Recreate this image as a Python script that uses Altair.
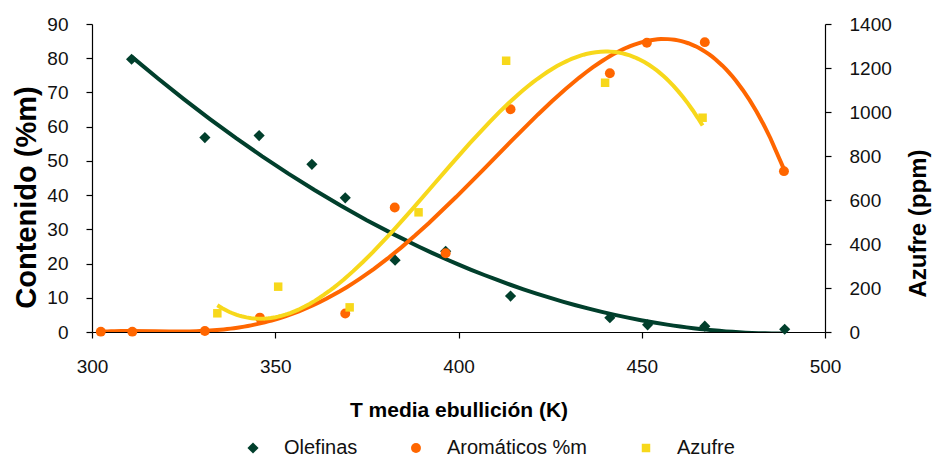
import altair as alt
import pandas as pd

# Mean boiling temperature (K) and measured content per fraction
t_olefinas = [310.8, 330.8, 345.6, 360.0, 369.1, 382.7, 396.5, 414.2, 441.3, 451.6, 467.2, 489.0]
olefinas = [79.7, 56.8, 57.4, 49.0, 39.2, 21.0, 23.6, 10.5, 4.2, 2.1, 1.7, 0.8]

t_aromaticos = [302.4, 311.0, 330.8, 345.8, 369.1, 382.6, 396.5, 414.2, 441.3, 451.4, 467.2, 488.8]
aromaticos = [0.1, 0.1, 0.3, 4.2, 5.4, 36.4, 23.0, 65.1, 75.6, 84.5, 84.7, 47.0]

# Sulfur (ppm), plotted against the secondary axis
t_azufre = [334.2, 350.8, 370.3, 389.1, 413.0, 440.0, 466.6]
azufre = [85, 206, 112, 544, 1233, 1133, 974]

series = ["Olefinas", "Aromáticos %m", "Azufre"]
colors = ["#013F2C", "#FF6600", "#F7D81B"]
shapes = ["diamond", "circle", "square"]
marker_sizes = [125, 72, 88]

x_ticks = [300, 350, 400, 450, 500]
left_ticks = [0, 10, 20, 30, 40, 50, 60, 70, 80, 90]
right_ticks = [0, 200, 400, 600, 800, 1000, 1200, 1400]

left_df = pd.DataFrame({
    "T": t_olefinas + t_aromaticos,
    "valor": olefinas + aromaticos,
    "serie": ["Olefinas"] * len(olefinas) + ["Aromáticos %m"] * len(aromaticos),
})
right_df = pd.DataFrame({
    "T": t_azufre,
    "ppm": azufre,
    "serie": ["Azufre"] * len(azufre),
})

FONT = "Liberation Sans"
W, H = 733, 308

x_enc = alt.X(
    "T:Q",
    scale=alt.Scale(domain=[300, 500], nice=False, zero=False),
    axis=alt.Axis(
        values=x_ticks, title="T media ebullición (K)", grid=False,
        tickSize=6, labelPadding=19, labelFlush=False,
        titleX=W / 2, titleY=78, titleBaseline="middle", titleFontSize=21,
    ),
)

color_enc = alt.Color(
    "serie:N",
    scale=alt.Scale(domain=series, range=colors),
    legend=alt.Legend(
        title=None, orient="none", direction="horizontal",
        legendX=151, legendY=414, symbolSize=100, labelOffset=21,
        columnPadding=48, labelFontSize=20, labelFont=FONT,
        labelColor="#111111", symbolStrokeWidth=0,
    ),
)
shape_enc = alt.Shape("serie:N", scale=alt.Scale(domain=series, range=shapes))
size_enc = alt.Size("serie:N", scale=alt.Scale(domain=series, range=marker_sizes), legend=None)

y_left = alt.Y(
    "valor:Q",
    scale=alt.Scale(domain=[0, 90], nice=False),
    axis=alt.Axis(
        orient="left", values=left_ticks, title="Contenido (%m)", grid=False,
        tickSize=6, labelPadding=18, titleX=-66, titleY=173,
        titleAngle=270, titleBaseline="middle", titleFontSize=29,
    ),
)
y_right = alt.Y(
    "ppm:Q",
    scale=alt.Scale(domain=[0, 1400], nice=False),
    axis=alt.Axis(
        orient="right", values=right_ticks, format="d", title="Azufre (ppm)", grid=False,
        tickSize=6, labelPadding=18, titleX=93, titleY=199,
        titleAngle=270, titleBaseline="middle", titleFontSize=24,
    ),
)

base_left = alt.Chart(left_df)
base_right = alt.Chart(right_df)

olef_fit = base_left.transform_filter(alt.datum.serie == "Olefinas").transform_regression(
    "T", "valor", method="poly", order=2
).mark_line(color=colors[0], strokeWidth=4, clip=True).encode(x=x_enc, y=y_left)

arom_fit = base_left.transform_filter(alt.datum.serie == "Aromáticos %m").transform_regression(
    "T", "valor", method="poly", order=4
).mark_line(color=colors[1], strokeWidth=4, clip=True).encode(x=x_enc, y=y_left)

left_points = base_left.mark_point(filled=True, opacity=1, strokeWidth=0).encode(
    x=x_enc, y=y_left, color=color_enc, shape=shape_enc, size=size_enc
)

azuf_fit = base_right.transform_regression(
    "T", "ppm", method="poly", order=3
).mark_line(color=colors[2], strokeWidth=4, clip=True).encode(x=x_enc, y=y_right)

right_points = base_right.mark_point(filled=True, opacity=1, strokeWidth=0).encode(
    x=x_enc, y=y_right, color=color_enc, shape=shape_enc, size=size_enc
)

left_layer = alt.layer(olef_fit, arom_fit, left_points)
right_layer = alt.layer(azuf_fit, right_points)

chart = (
    alt.layer(left_layer, right_layer)
    .resolve_scale(y="independent")
    .properties(
        width=W, height=H,
        autosize=alt.AutoSizeParams(type="none"),
        padding={"left": 92, "top": 24, "right": 107, "bottom": 126},
        background="#FFFFFF",
    )
    .configure_view(strokeWidth=0)
    .configure_axis(
        domainColor="#000000", tickColor="#000000", domainWidth=1.2, tickWidth=1.2,
        labelFont=FONT, labelFontSize=19, labelColor="#111111",
        titleFont=FONT, titleFontWeight="bold", titleColor="#000000",
    )
)

chart.save("out.html", embed_options={"renderer": "svg", "actions": False})
